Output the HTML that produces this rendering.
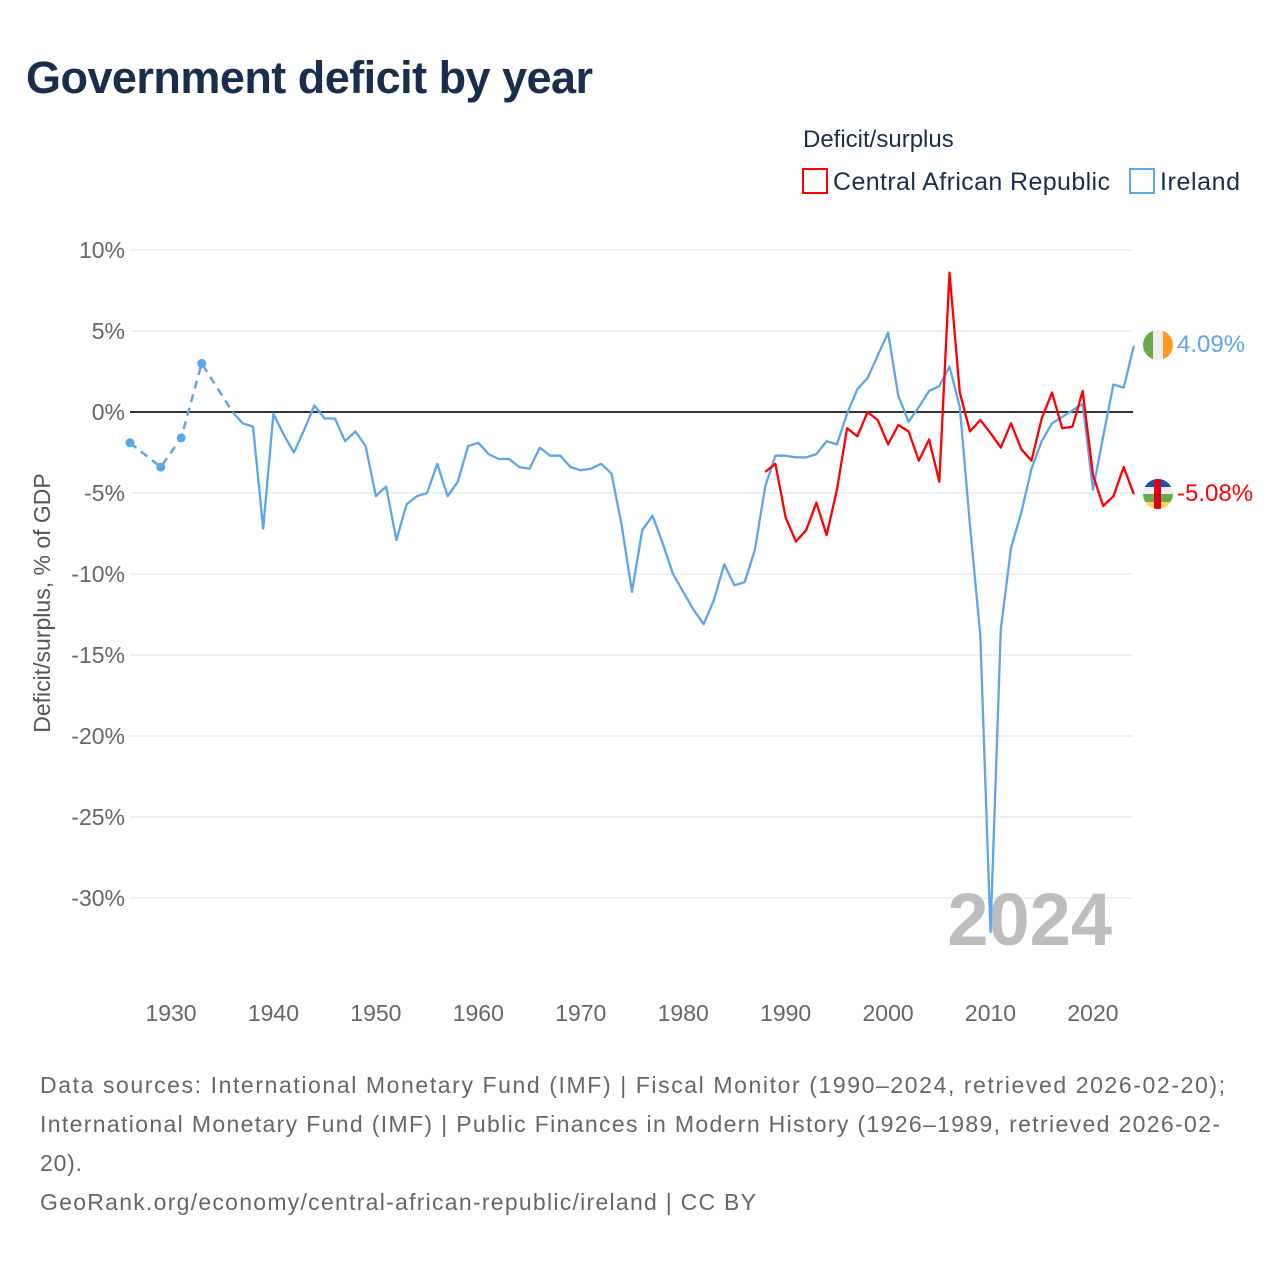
<!DOCTYPE html>
<html><head><meta charset="utf-8"><style>
body{margin:0;background:#fff;font-family:"Liberation Sans",sans-serif;}
#wrap{position:relative;width:1280px;height:1280px;overflow:hidden}
</style></head><body>
<div id="wrap">
<svg id="chart" width="1280" height="1280" xmlns="http://www.w3.org/2000/svg">
<text x="26" y="93" font-size="45" font-weight="bold" fill="#1a2e4c" textLength="567">Government deficit by year</text>
<text x="803" y="147" font-size="24" fill="#1a2e4c">Deficit/surplus</text>
<g><rect x="803" y="169" width="24" height="24" fill="none" stroke="#ff0000" stroke-width="2"/><text x="833" y="190" font-size="25" fill="#1a2e4c" textLength="277">Central African Republic</text></g>
<g><rect x="1130" y="169" width="24" height="24" fill="none" stroke="#5da5ec" stroke-width="2"/><text x="1160" y="190" font-size="25" fill="#1a2e4c" textLength="80">Ireland</text></g>
<text transform="translate(50,603) rotate(-90)" text-anchor="middle" font-size="23" fill="#555">Deficit/surplus, % of GDP</text>
<g id="grid"></g><g id="yt"></g><g id="xt"></g>
<text x="1112" y="945" text-anchor="end" font-size="74" font-weight="bold" fill="#bdbdbd">2024</text>
<g id="series"></g>
<g><clipPath id="c1"><circle cx="1158" cy="345" r="15"/></clipPath><g clip-path="url(#c1)"><rect x="1143" y="330" width="10" height="30" fill="#6aa84f"/><rect x="1153" y="330" width="10" height="30" fill="#eee"/><rect x="1163" y="330" width="10" height="30" fill="#ff9a1f"/></g></g>
<g><clipPath id="c2"><circle cx="1158" cy="494" r="15"/></clipPath><g clip-path="url(#c2)"><rect x="1143" y="479" width="30" height="8" fill="#1f4fa8"/><rect x="1143" y="487" width="30" height="7" fill="#eee"/><rect x="1143" y="494" width="30" height="8" fill="#6aa84f"/><rect x="1143" y="502" width="30" height="8" fill="#ffd54a"/><rect x="1154" y="479" width="7" height="30" fill="#d9001b"/></g></g>
<text x="1177" y="352" font-size="24" fill="#5da5ec">4.09%</text>
<text x="1177" y="501" font-size="24" fill="#ff0000">-5.08%</text>
<g font-size="23" fill="#666">
<text x="40" y="1093" textLength="1185">Data sources: International Monetary Fund (IMF) | Fiscal Monitor (1990–2024, retrieved 2026-02-20);</text>
<text x="40" y="1132" textLength="1180">International Monetary Fund (IMF) | Public Finances in Modern History (1926–1989, retrieved 2026-02-</text>
<text x="40" y="1171" textLength="42">20).</text>
<text x="40" y="1210" textLength="716">GeoRank.org/economy/central-african-republic/ireland | CC BY</text>
</g>
</svg></div>
<script>
const yTicks=[10,5,0,-5,-10,-15,-20,-25,-30];
const xTicks=[1930,1940,1950,1960,1970,1980,1990,2000,2010,2020];
const ieDashYears=[1926,1929,1931,1933,1936];
const ieDashVals=[-1.9,-3.4,-1.6,3.0,0.0];
const ieYears=[];for(let y=1936;y<=2024;y++)ieYears.push(y);
const ieVals=[0.0,-0.7,-0.9,-7.2,-0.1,-1.4,-2.5,-1.1,0.4,-0.4,-0.4,-1.8,-1.2,-2.1,-5.2,-4.6,-7.9,-5.7,-5.2,-5.0,-3.2,-5.2,-4.3,-2.1,-1.9,-2.6,-2.9,-2.9,-3.4,-3.5,-2.2,-2.7,-2.7,-3.4,-3.6,-3.5,-3.2,-3.8,-7.0,-11.1,-7.3,-6.4,-8.1,-10.0,-11.1,-12.2,-13.1,-11.6,-9.4,-10.7,-10.5,-8.5,-4.6,-2.7,-2.7,-2.8,-2.8,-2.6,-1.8,-2.0,-0.1,1.4,2.1,3.5,4.9,1.0,-0.6,0.3,1.3,1.6,2.8,0.3,-7.0,-13.8,-32.1,-13.4,-8.4,-6.2,-3.5,-1.8,-0.7,-0.3,0.1,0.5,-4.8,-1.5,1.7,1.5,4.09];
const carYears=[];for(let y=1988;y<=2024;y++)carYears.push(y);
const carVals=[-3.7,-3.2,-6.5,-8.0,-7.3,-5.6,-7.6,-4.8,-1.0,-1.5,0.0,-0.5,-2.0,-0.8,-1.2,-3.0,-1.7,-4.3,8.6,1.2,-1.2,-0.5,-1.3,-2.2,-0.7,-2.3,-3.0,-0.4,1.2,-1.0,-0.9,1.3,-3.9,-5.8,-5.2,-3.4,-5.08];
const X=y=>171+(y-1930)*10.244, Y=v=>412-v*16.2;
const NS='http://www.w3.org/2000/svg';
function mk(tag,attrs,parent){const e=document.createElementNS(NS,tag);for(const k in attrs)e.setAttribute(k,attrs[k]);parent.appendChild(e);return e;}
const grid=document.getElementById('grid'),yt=document.getElementById('yt'),xt=document.getElementById('xt'),ser=document.getElementById('series');
yTicks.forEach(v=>{
 const l=mk('line',{x1:130,x2:1133,y1:Y(v),y2:Y(v),stroke:v===0?'#333':'#e6e6e6','stroke-width':v===0?2:1.3},grid);
 
 
 const t=mk('text',{x:125,y:Y(v)+8,'text-anchor':'end','font-size':23,fill:'#666'},yt);t.textContent=v+'%';
 
 
});
xTicks.forEach(y=>{
 const t=mk('text',{x:X(y),y:1021,'text-anchor':'middle','font-size':23,fill:'#666'},xt);t.textContent=y;
 
 
});
function pts(ys,vs){return ys.map((y,i)=>X(y).toFixed(1)+','+Y(vs[i]).toFixed(1)).join(' ');}
const d=mk('polyline',{points:pts(ieDashYears,ieDashVals),fill:'none',stroke:'#5da5ec','stroke-width':2.5,'stroke-dasharray':'8,6'},ser);


ieDashYears.slice(0,4).forEach((y,i)=>{const c=mk('circle',{cx:X(y),cy:Y(ieDashVals[i]),r:4.5,fill:'#5da5ec'},ser);
 
 });
const ie=mk('polyline',{points:pts(ieYears,ieVals),fill:'none',stroke:'#5da5ec','stroke-width':2.3,'stroke-linejoin':'round'},ser);


const car=mk('polyline',{points:pts(carYears,carVals),fill:'none',stroke:'#ff0000','stroke-width':2.3,'stroke-linejoin':'round'},ser);


</script>
</body></html>
